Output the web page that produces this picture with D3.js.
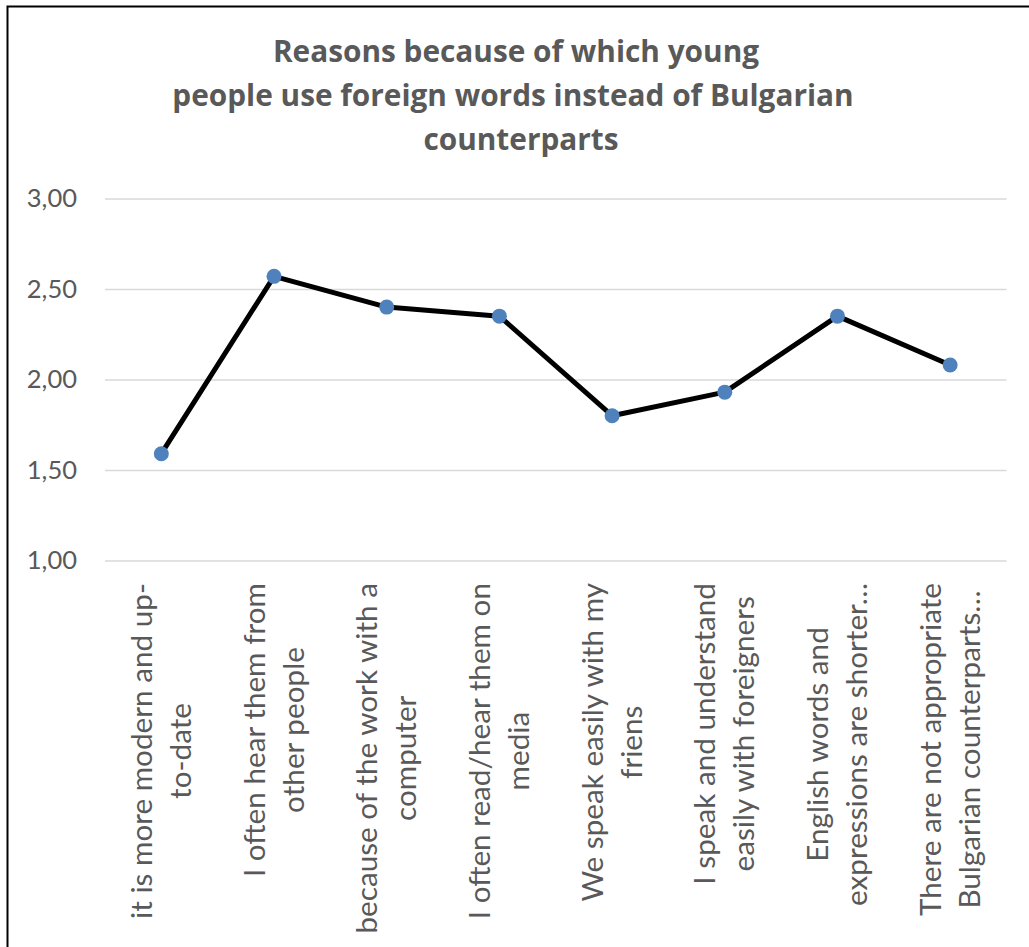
<!DOCTYPE html>
<html>
<head>
<meta charset="utf-8">
<script src="https://cdn.jsdelivr.net/npm/d3@7"></script>
<style>
  html, body { margin: 0; padding: 0; background: #ffffff; }
  svg { display: block; }
</style>
</head>
<body>
<script>
// Chart data
const titleLines = [
  "Reasons because of which young",
  "people use foreign words instead of Bulgarian",
  "counterparts"
];
const categories = [
  "it is more modern and up-to-date",
  "I often hear them from other people",
  "because of the work with a computer",
  "I often read/hear them on media",
  "We speak easily with my friens",
  "I speak and understand easily with foreigners",
  "English words and expressions are shorter…",
  "There are not appropriate Bulgarian counterparts…"
];
// Wrapped axis label lines, as shown under each category
const categoryLines = [
  ["it is more modern and up-", "to-date"],
  ["I often hear them from", "other people"],
  ["because of the work with a", "computer"],
  ["I often read/hear them on", "media"],
  ["We speak easily with my", "friens"],
  ["I speak and understand", "easily with foreigners"],
  ["English words and", "expressions are shorter…"],
  ["There are not appropriate", "Bulgarian counterparts…"]
];
const values = [1.59, 2.57, 2.40, 2.35, 1.80, 1.93, 2.35, 2.08];
const yTicks = [1.0, 1.5, 2.0, 2.5, 3.0];

const W = 1029, H = 947;
const textColor = "#595959";
const fontFamily = "Lato, 'Open Sans', sans-serif";
const titleFont = "'Open Sans', Lato, sans-serif";

const svg = d3.select("body").append("svg")
  .attr("width", W).attr("height", H);

svg.append("rect").attr("width", W).attr("height", H).attr("fill", "#ffffff");

// Chart frame (continues past the right and bottom edges)
svg.append("rect")
  .attr("x", 7.5).attr("y", 6.5)
  .attr("width", 1200).attr("height", 1200)
  .attr("fill", "none")
  .attr("stroke", "#000000")
  .attr("stroke-width", 2);

// Title
const titleX = [516, 513, 521];
const titleY = [62, 106, 149.5];
svg.append("g").selectAll("text")
  .data(titleLines)
  .join("text")
  .attr("x", (d, i) => titleX[i])
  .attr("y", (d, i) => titleY[i])
  .attr("text-anchor", "middle")
  .attr("font-family", titleFont)
  .attr("font-weight", "bold")
  .attr("font-size", 29.8)
  .attr("fill", textColor)
  .text(d => d);

// Scales
const plot = { left: 105, right: 1006.5, top: 198.5, bottom: 560.5 };
const x = d3.scaleBand()
  .domain(categories)
  .range([plot.left, plot.right]);
const y = d3.scaleLinear()
  .domain([1, 3])
  .range([plot.bottom, plot.top]);

// Y axis with gridlines
const yAxis = d3.axisLeft(y)
  .tickValues(yTicks)
  .tickFormat(d => d3.format(".2f")(d).replace(".", ","))
  .tickSizeInner(-(plot.right - plot.left))
  .tickSizeOuter(0)
  .tickPadding(28);

const gy = svg.append("g")
  .attr("transform", `translate(${plot.left},0)`)
  .call(yAxis);
gy.select(".domain").remove();
gy.selectAll(".tick line")
  .attr("stroke", "#d9d9d9")
  .attr("stroke-width", 1.5);
gy.selectAll(".tick text")
  .attr("font-family", fontFamily)
  .attr("font-size", 25.5)
  .attr("fill", textColor);

// Category labels, rotated and wrapped
const labelTop = 583;
const lineGap = 39;
const labelG = svg.append("g");
categories.forEach((c, i) => {
  const cx = x(c) + x.bandwidth() / 2;
  const lines = categoryLines[i];
  const t = labelG.append("text")
    .attr("transform", `translate(${cx},${labelTop}) rotate(-90)`)
    .attr("font-family", fontFamily)
    .attr("font-size", 29.7)
    .attr("fill", textColor);
  const n = lines.length;
  const spans = t.selectAll("tspan")
    .data(lines)
    .join("tspan")
    .attr("y", (d, j) => (j - (n - 1) / 2) * lineGap + 10)
    .text(d => d);
  // centre each line within the block defined by the longest line
  const widths = [];
  spans.each(function () { widths.push(this.getComputedTextLength()); });
  const maxW = d3.max(widths);
  spans.attr("x", (d, j) => -(maxW - widths[j]) / 2)
    .attr("text-anchor", "end");
});

// Series line
const line = d3.line()
  .x((d, i) => x(categories[i]) + x.bandwidth() / 2)
  .y(d => y(d));

svg.append("path")
  .datum(values)
  .attr("d", line)
  .attr("fill", "none")
  .attr("stroke", "#000000")
  .attr("stroke-width", 5)
  .attr("stroke-linejoin", "round");

// Markers
svg.append("g").selectAll("circle")
  .data(values)
  .join("circle")
  .attr("cx", (d, i) => x(categories[i]) + x.bandwidth() / 2)
  .attr("cy", d => y(d))
  .attr("r", 7.5)
  .attr("fill", "#4f81bd");
</script>
</body>
</html>
